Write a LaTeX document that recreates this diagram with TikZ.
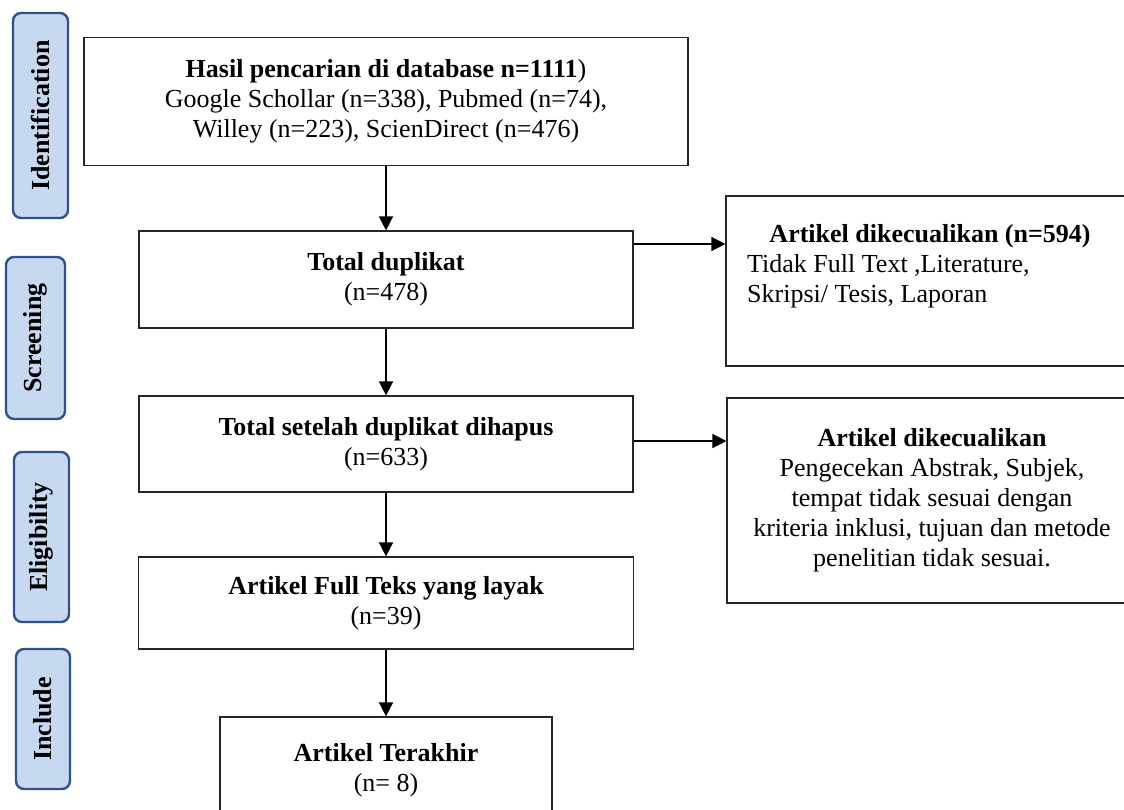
\documentclass[tikz,border=0pt]{standalone}
\usepackage{fontspec}
\setmainfont{Liberation Serif}
\usetikzlibrary{arrows.meta}
\definecolor{sFill}{RGB}{198,217,241}
\definecolor{sLine}{RGB}{47,82,143}
\newcommand{\bigtxt}{\fontsize{26}{30}\selectfont}
\tikzset{
  stage/.style={rectangle, rounded corners=8pt, draw=sLine, fill=sFill,
                line width=2.4pt, rotate=90, font=\bigtxt\bfseries, inner sep=0pt},
  box/.style={rectangle, draw=black!85, line width=1.2pt, align=center,
              font=\bigtxt, inner sep=0pt},
  txt/.style={font=\bigtxt, inner sep=0pt},
  flow/.style={-{Triangle[length=14pt,width=14pt]}, line width=1.5pt},
}

\begin{document}
\begin{tikzpicture}[x=1pt,y=-1pt]
  \useasboundingbox (0,0) rectangle (1124,809);

  % --- stage labels (left column) ---
  \node[stage, minimum width=205pt, minimum height=55pt] (s1) at (40.5,115.5){Identification};
  \node[stage, minimum width=162pt, minimum height=59pt] (s2) at (35.5,338){Screening};
  \node[stage, minimum width=170pt, minimum height=55pt] (s3) at (41.5,537){Eligibility};
  \node[stage, minimum width=140pt, minimum height=54pt] (s4) at (43,719){Include};

  % --- main flow (centre column) ---
  \node[box, minimum width=604pt, minimum height=128pt] (b1) at (386,101.5)
    {\textbf{Hasil pencarian di database n=1111})\\Google Schollar (n=338), Pubmed (n=74),\\Willey (n=223), ScienDirect (n=476)};
  \node[box, minimum width=494pt, minimum height=97pt] (b2) at (386,279.5)
    {\textbf{Total duplikat}\\(n=478)};
  \node[box, minimum width=494pt, minimum height=96pt] (b3) at (386,444)
    {\textbf{Total setelah duplikat dihapus}\\(n=633)};
  \node[box, minimum width=495pt, minimum height=92pt] (b4) at (386,603)
    {\textbf{Artikel Full Teks yang layak}\\(n=39)};
  \node[box, minimum width=332pt, minimum height=106pt] (b5) at (386,770)
    {\textbf{Artikel Terakhir}\\(n= 8)};

  % --- excluded records (right column) ---
  \node[box, minimum width=410pt, minimum height=170pt] (x1) at (931,281){};
  \node[txt, font=\bigtxt\bfseries, anchor=base] (x1t) at (930,242){Artikel dikecualikan (n=594)};
  \node[txt, align=left, anchor=north west] (x1b) at (747,254)
    {Tidak Full Text ,Literature,\\Skripsi/ Tesis, Laporan};
  \node[box, minimum width=410pt, minimum height=205pt] (x2) at (932,500.5)
    {\textbf{Artikel dikecualikan}\\Pengecekan Abstrak, Subjek,\\tempat tidak sesuai dengan\\kriteria inklusi, tujuan dan metode\\penelitian tidak sesuai.};

  % --- arrows ---
  \draw[flow] (b1) -- (b2);
  \draw[flow] (b2) -- (b3);
  \draw[flow] (b3) -- (b4);
  \draw[flow] (b4) -- (b5);
  \coordinate (a2) at ([yshift=35.5pt]b2.east);
  \coordinate (a3) at ([yshift=3pt]b3.east);
  \draw[flow] (a2) -- (a2 -| x1.west);
  \draw[flow] (a3) -- (a3 -| x2.west);
\end{tikzpicture}
\end{document}
